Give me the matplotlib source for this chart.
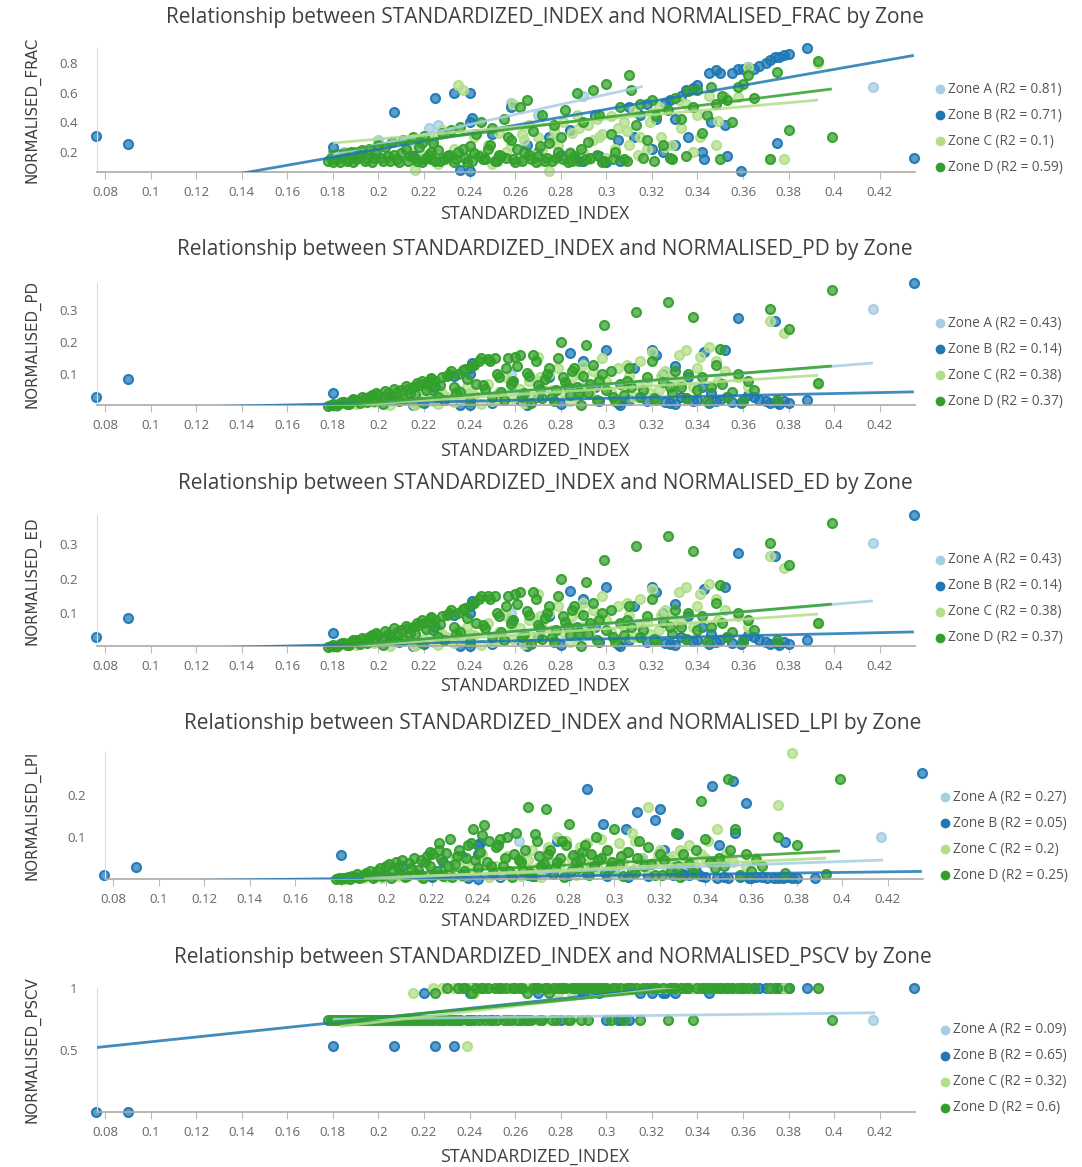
import matplotlib
matplotlib.use('Agg')
import matplotlib.pyplot as plt
from matplotlib.lines import Line2D
from matplotlib.colors import to_rgba
import numpy as np

plt.rcParams['font.family'] = ['Open Sans', 'DejaVu Sans']

zones = ['Zone A', 'Zone B', 'Zone C', 'Zone D']
zone_colors = ['#a6cee3', '#1f78b4', '#b2df8a', '#33a02c']
metrics = ['NORMALISED_FRAC', 'NORMALISED_PD', 'NORMALISED_ED', 'NORMALISED_LPI', 'NORMALISED_PSCV']
x_name = 'STANDARDIZED_INDEX'
x_ticks = [0.08, 0.1, 0.12, 0.14, 0.16, 0.18, 0.2, 0.22, 0.24, 0.26, 0.28, 0.3, 0.32, 0.34, 0.36, 0.38, 0.4, 0.42]

# ---------------- Zone A ----------------
zone_a_x = [0.417, 0.226, 0.258, 0.222, 0.200, 0.185, 0.290, 0.270]
zone_a_frac = [0.64, 0.38, 0.53, 0.36, 0.28, 0.20, 0.58, 0.45]
zone_a_pd = [0.305, 0.050, 0.100, 0.040, 0.020, 0.010, 0.060, 0.080]
zone_a_lpi = [0.100, 0.030, 0.090, 0.020, 0.010, 0.005, 0.050, 0.040]
zone_a_pscv = [0.74, 0.74, 1.0, 0.74, 0.74, 0.74, 1.0, 0.74]

# ---------------- Zone B ----------------
zone_b_x = [0.076, 0.090, 0.180, 0.207, 0.225, 0.233, 0.240, 0.241, 0.240, 0.236,
            0.240, 0.220, 0.258, 0.262, 0.270, 0.275, 0.284, 0.288, 0.290, 0.295,
            0.300, 0.305, 0.310, 0.312, 0.318, 0.320, 0.322, 0.325, 0.328, 0.330,
            0.333, 0.336, 0.340, 0.342, 0.343, 0.345, 0.346, 0.348, 0.350, 0.352,
            0.353, 0.355, 0.358, 0.359, 0.360, 0.362, 0.365, 0.367, 0.370, 0.372,
            0.374, 0.375, 0.376, 0.378, 0.380, 0.388, 0.435, 0.335, 0.338, 0.326,
            0.215, 0.250, 0.265, 0.280, 0.297, 0.306, 0.315, 0.330]
zone_b_frac = [0.31, 0.255, 0.235, 0.47, 0.56, 0.60, 0.60, 0.43, 0.40, 0.08,
               0.07, 0.15, 0.50, 0.15, 0.20, 0.30, 0.35, 0.16, 0.14, 0.45,
               0.13, 0.28, 0.50, 0.30, 0.52, 0.22, 0.42, 0.20, 0.55, 0.25,
               0.58, 0.30, 0.65, 0.20, 0.15, 0.73, 0.40, 0.75, 0.73, 0.38,
               0.17, 0.73, 0.76, 0.07, 0.76, 0.77, 0.76, 0.78, 0.80, 0.82,
               0.84, 0.26, 0.84, 0.85, 0.86, 0.90, 0.16, 0.62, 0.63, 0.53,
               0.18, 0.32, 0.25, 0.18, 0.17, 0.14, 0.45, 0.42]
zone_b_pd = [0.030, 0.085, 0.043, 0.020, 0.060, 0.095, 0.120, 0.135, 0.100, 0.005,
             0.003, 0.010, 0.080, 0.020, 0.030, 0.090, 0.165, 0.045, 0.140, 0.060,
             0.175, 0.010, 0.020, 0.120, 0.015, 0.175, 0.160, 0.100, 0.010, 0.125,
             0.030, 0.090, 0.020, 0.060, 0.170, 0.010, 0.040, 0.015, 0.020, 0.175,
             0.030, 0.012, 0.275, 0.010, 0.020, 0.035, 0.030, 0.020, 0.015, 0.010,
             0.265, 0.012, 0.008, 0.015, 0.010, 0.020, 0.385, 0.025, 0.018, 0.012,
             0.004, 0.010, 0.003, 0.008, 0.015, 0.005, 0.030, 0.008]
zone_b_lpi = [0.010, 0.028, 0.058, 0.030, 0.040, 0.055, 0.080, 0.085, 0.060, 0.002,
              0.001, 0.004, 0.050, 0.010, 0.020, 0.090, 0.060, 0.215, 0.030, 0.130,
              0.020, 0.120, 0.160, 0.050, 0.140, 0.167, 0.070, 0.030, 0.106, 0.012,
              0.010, 0.020, 0.005, 0.040, 0.222, 0.003, 0.080, 0.005, 0.002, 0.232,
              0.110, 0.004, 0.180, 0.003, 0.002, 0.005, 0.004, 0.003, 0.002, 0.003,
              0.002, 0.088, 0.004, 0.002, 0.003, 0.003, 0.252, 0.015, 0.008, 0.010,
              0.010, 0.005, 0.006, 0.010, 0.008, 0.004, 0.008, 0.010]
zone_b_pscv = [0.0, 0.0, 0.53, 0.53, 0.53, 0.53, 0.96, 1.0, 1.0, 0.74,
               0.74, 0.96, 1.0, 0.74, 0.96, 1.0, 1.0, 0.96, 0.96, 1.0,
               0.74, 0.74, 0.74, 1.0, 1.0, 0.96, 1.0, 0.96, 1.0, 0.96,
               1.0, 1.0, 1.0, 1.0, 1.0, 0.96, 1.0, 1.0, 1.0, 1.0,
               1.0, 1.0, 1.0, 1.0, 1.0, 1.0, 1.0, 1.0, 1.0, 1.0,
               1.0, 1.0, 1.0, 1.0, 1.0, 1.0, 1.0, 1.0, 1.0, 0.96,
               0.74, 0.74, 0.74, 0.74, 0.96, 0.74, 0.96, 1.0]

# ---------------- Zone C ----------------
zone_c_x = [0.182, 0.190, 0.198, 0.205, 0.212, 0.215, 0.216, 0.220, 0.224, 0.226,
            0.228, 0.230, 0.233, 0.235, 0.237, 0.239, 0.242, 0.245, 0.248, 0.250,
            0.253, 0.256, 0.259, 0.262, 0.264, 0.266, 0.268, 0.270, 0.272, 0.275,
            0.277, 0.279, 0.281, 0.283, 0.285, 0.287, 0.290, 0.292, 0.294, 0.296,
            0.298, 0.300, 0.302, 0.305, 0.308, 0.310, 0.312, 0.315, 0.318, 0.320,
            0.323, 0.326, 0.329, 0.332, 0.335, 0.338, 0.341, 0.345, 0.348, 0.349,
            0.352, 0.358, 0.362, 0.372, 0.378, 0.393,
            0.240, 0.252, 0.258, 0.263, 0.271, 0.276, 0.284, 0.288, 0.293, 0.297,
            0.304, 0.309, 0.314, 0.319, 0.324, 0.333, 0.340]
zone_c_frac = [0.15, 0.17, 0.20, 0.16, 0.22, 0.25, 0.08, 0.18, 0.28, 0.12,
               0.35, 0.15, 0.22, 0.65, 0.62, 0.14, 0.30, 0.18, 0.25, 0.12,
               0.33, 0.20, 0.52, 0.15, 0.28, 0.38, 0.18, 0.30, 0.22, 0.07,
               0.35, 0.25, 0.40, 0.15, 0.33, 0.45, 0.20, 0.38, 0.28, 0.42,
               0.32, 0.16, 0.44, 0.36, 0.40, 0.25, 0.48, 0.30, 0.22, 0.46,
               0.50, 0.23, 0.25, 0.55, 0.52, 0.20, 0.30, 0.58, 0.25, 0.41,
               0.57, 0.57, 0.77, 0.15, 0.15, 0.80,
               0.20, 0.16, 0.24, 0.32, 0.14, 0.28, 0.20, 0.36, 0.15, 0.30,
               0.22, 0.34, 0.18, 0.40, 0.30, 0.36, 0.45]
zone_c_pd = [0.002, 0.006, 0.012, 0.004, 0.020, 0.010, 0.003, 0.025, 0.015, 0.008,
             0.040, 0.030, 0.012, 0.050, 0.020, 0.060, 0.035, 0.008, 0.070, 0.015,
             0.045, 0.090, 0.025, 0.055, 0.010, 0.080, 0.030, 0.155, 0.060, 0.100,
             0.020, 0.120, 0.045, 0.070, 0.090, 0.030, 0.130, 0.065, 0.110, 0.020,
             0.150, 0.080, 0.045, 0.120, 0.060, 0.095, 0.030, 0.140, 0.075, 0.170,
             0.050, 0.110, 0.085, 0.160, 0.175, 0.060, 0.155, 0.185, 0.140, 0.080,
             0.110, 0.090, 0.060, 0.265, 0.230, 0.070,
             0.040, 0.020, 0.065, 0.035, 0.090, 0.050, 0.015, 0.100, 0.040, 0.085,
             0.025, 0.130, 0.065, 0.040, 0.095, 0.070, 0.120]
zone_c_lpi = [0.001, 0.003, 0.002, 0.008, 0.015, 0.005, 0.002, 0.020, 0.010, 0.004,
              0.030, 0.050, 0.006, 0.040, 0.025, 0.015, 0.060, 0.004, 0.030, 0.010,
              0.055, 0.020, 0.008, 0.045, 0.070, 0.025, 0.005, 0.060, 0.040, 0.100,
              0.015, 0.090, 0.050, 0.010, 0.075, 0.035, 0.055, 0.020, 0.095, 0.060,
              0.040, 0.015, 0.085, 0.065, 0.110, 0.030, 0.050, 0.172, 0.040, 0.070,
              0.025, 0.055, 0.070, 0.045, 0.035, 0.060, 0.090, 0.120, 0.045, 0.060,
              0.040, 0.030, 0.050, 0.175, 0.300, 0.012,
              0.030, 0.012, 0.050, 0.020, 0.075, 0.035, 0.045, 0.085, 0.025, 0.070,
              0.040, 0.090, 0.025, 0.060, 0.050, 0.080, 0.050]
zone_c_pscv = [0.74, 0.74, 0.74, 0.74, 0.74, 0.96, 0.74, 0.74, 1.0, 0.74,
               1.0, 0.74, 1.0, 1.0, 1.0, 0.53, 0.96, 0.74, 1.0, 0.74,
               1.0, 1.0, 0.74, 1.0, 1.0, 1.0, 1.0, 1.0, 0.74, 1.0,
               1.0, 0.96, 1.0, 1.0, 0.96, 1.0, 1.0, 1.0, 1.0, 1.0,
               1.0, 1.0, 1.0, 1.0, 1.0, 1.0, 1.0, 1.0, 1.0, 1.0,
               1.0, 1.0, 1.0, 1.0, 1.0, 1.0, 1.0, 1.0, 1.0, 1.0,
               1.0, 1.0, 1.0, 1.0, 1.0, 1.0,
               1.0, 0.74, 1.0, 1.0, 1.0, 1.0, 1.0, 1.0, 1.0, 1.0,
               1.0, 1.0, 1.0, 1.0, 1.0, 1.0, 1.0]

# ---------------- Zone D ----------------
zone_d_x = [0.178, 0.179, 0.180, 0.182, 0.184, 0.186, 0.188, 0.190, 0.192, 0.194,
            0.196, 0.198, 0.200, 0.202, 0.204, 0.206, 0.208, 0.210, 0.211, 0.213,
            0.215, 0.216, 0.218, 0.219, 0.220, 0.222, 0.223, 0.224, 0.225, 0.226,
            0.228, 0.229, 0.230, 0.232, 0.233, 0.235, 0.236, 0.238, 0.240, 0.241,
            0.243, 0.244, 0.245, 0.247, 0.248, 0.250, 0.251, 0.253, 0.255, 0.256,
            0.258, 0.260, 0.262, 0.264, 0.265, 0.267, 0.268, 0.270, 0.272, 0.273,
            0.275, 0.277, 0.278, 0.280, 0.282, 0.284, 0.285, 0.287, 0.289, 0.290,
            0.291, 0.292, 0.294, 0.296, 0.297, 0.299, 0.300, 0.302, 0.304, 0.306,
            0.308, 0.310, 0.311, 0.313, 0.315, 0.318, 0.320, 0.322, 0.325, 0.327,
            0.329, 0.330, 0.333, 0.335, 0.336, 0.338, 0.340, 0.342, 0.344, 0.346,
            0.348, 0.350, 0.351, 0.353, 0.355, 0.358, 0.360, 0.362, 0.365, 0.372,
            0.375, 0.380, 0.393, 0.399,
            0.181, 0.183, 0.185, 0.187, 0.189, 0.191, 0.193, 0.195, 0.197, 0.199,
            0.201, 0.203, 0.205, 0.207, 0.209, 0.212, 0.214, 0.217, 0.219, 0.221,
            0.223, 0.227, 0.231, 0.234, 0.237, 0.239, 0.242, 0.246, 0.249, 0.252,
            0.254, 0.257, 0.259, 0.261, 0.263, 0.266, 0.269, 0.271, 0.274, 0.276,
            0.279, 0.281, 0.283, 0.286, 0.288, 0.293, 0.298, 0.303, 0.309, 0.316,
            0.321, 0.328]
zone_d_frac = [0.14, 0.16, 0.13, 0.15, 0.17, 0.14, 0.20, 0.15, 0.18, 0.14,
               0.22, 0.16, 0.25, 0.14, 0.17, 0.27, 0.15, 0.19, 0.28, 0.14,
               0.30, 0.16, 0.23, 0.13, 0.31, 0.18, 0.15, 0.26, 0.14, 0.21,
               0.33, 0.15, 0.17, 0.35, 0.13, 0.20, 0.37, 0.16, 0.24, 0.14,
               0.32, 0.17, 0.40, 0.15, 0.22, 0.36, 0.14, 0.18, 0.42, 0.16,
               0.28, 0.13, 0.50, 0.20, 0.55, 0.15, 0.34, 0.17, 0.45, 0.14,
               0.26, 0.38, 0.16, 0.30, 0.48, 0.19, 0.14, 0.60, 0.22, 0.40,
               0.15, 0.27, 0.62, 0.18, 0.45, 0.14, 0.66, 0.32, 0.20, 0.50,
               0.15, 0.72, 0.62, 0.38, 0.52, 0.28, 0.55, 0.44, 0.25, 0.48,
               0.15, 0.56, 0.42, 0.17, 0.61, 0.50, 0.62, 0.33, 0.45, 0.64,
               0.52, 0.15, 0.58, 0.55, 0.40, 0.64, 0.66, 0.72, 0.56, 0.15,
               0.74, 0.35, 0.81, 0.30,
               0.15, 0.13, 0.18, 0.15, 0.13, 0.16, 0.21, 0.15, 0.13, 0.19,
               0.16, 0.23, 0.14, 0.18, 0.13, 0.22, 0.17, 0.14, 0.26, 0.16,
               0.20, 0.14, 0.18, 0.15, 0.22, 0.13, 0.19, 0.15, 0.25, 0.14,
               0.17, 0.30, 0.15, 0.22, 0.14, 0.18, 0.13, 0.24, 0.16, 0.14,
               0.20, 0.15, 0.13, 0.17, 0.14, 0.16, 0.13, 0.15, 0.14, 0.16,
               0.14, 0.16]
zone_d_pd = [0.002, 0.005, 0.008, 0.003, 0.012, 0.006, 0.015, 0.020, 0.010, 0.025,
             0.030, 0.018, 0.035, 0.008, 0.040, 0.028, 0.045, 0.050, 0.022, 0.055,
             0.060, 0.038, 0.065, 0.012, 0.070, 0.075, 0.085, 0.050, 0.080, 0.030,
             0.090, 0.020, 0.095, 0.110, 0.060, 0.100, 0.045, 0.115, 0.015, 0.125,
             0.070, 0.140, 0.150, 0.055, 0.148, 0.030, 0.150, 0.090, 0.020, 0.120,
             0.070, 0.155, 0.160, 0.040, 0.105, 0.010, 0.160, 0.065, 0.025, 0.085,
             0.120, 0.015, 0.050, 0.200, 0.075, 0.035, 0.110, 0.060, 0.005, 0.095,
             0.190, 0.040, 0.130, 0.020, 0.080, 0.255, 0.050, 0.110, 0.015, 0.070,
             0.035, 0.120, 0.060, 0.295, 0.030, 0.090, 0.140, 0.020, 0.075, 0.325,
             0.040, 0.110, 0.060, 0.025, 0.100, 0.280, 0.050, 0.090, 0.015, 0.060,
             0.130, 0.180, 0.070, 0.030, 0.045, 0.100, 0.015, 0.080, 0.050, 0.305,
             0.020, 0.240, 0.072, 0.362,
             0.004, 0.010, 0.014, 0.008, 0.022, 0.016, 0.028, 0.012, 0.035, 0.042,
             0.020, 0.048, 0.032, 0.055, 0.015, 0.062, 0.042, 0.072, 0.080, 0.052,
             0.088, 0.068, 0.100, 0.040, 0.112, 0.085, 0.130, 0.065, 0.140, 0.100,
             0.045, 0.150, 0.080, 0.125, 0.030, 0.095, 0.140, 0.055, 0.100, 0.030,
             0.150, 0.090, 0.060, 0.120, 0.040, 0.070, 0.100, 0.030, 0.080, 0.050,
             0.025, 0.060]
zone_d_lpi = [0.001, 0.002, 0.000, 0.003, 0.001, 0.004, 0.002, 0.006, 0.010, 0.003,
              0.020, 0.008, 0.030, 0.002, 0.040, 0.015, 0.005, 0.038, 0.025, 0.012,
              0.045, 0.002, 0.055, 0.030, 0.060, 0.018, 0.085, 0.048, 0.008, 0.062,
              0.095, 0.004, 0.035, 0.070, 0.010, 0.050, 0.080, 0.120, 0.025, 0.065,
              0.128, 0.040, 0.090, 0.015, 0.075, 0.095, 0.030, 0.100, 0.005, 0.060,
              0.045, 0.020, 0.172, 0.008, 0.108, 0.055, 0.030, 0.167, 0.070, 0.012,
              0.040, 0.090, 0.005, 0.130, 0.058, 0.025, 0.045, 0.080, 0.010, 0.060,
              0.030, 0.100, 0.050, 0.015, 0.070, 0.040, 0.120, 0.035, 0.008, 0.065,
              0.020, 0.050, 0.090, 0.030, 0.075, 0.010, 0.060, 0.045, 0.020, 0.110,
              0.005, 0.060, 0.035, 0.015, 0.070, 0.185, 0.095, 0.040, 0.025, 0.050,
              0.030, 0.238, 0.070, 0.120, 0.010, 0.060, 0.020, 0.045, 0.030, 0.100,
              0.015, 0.080, 0.012, 0.238,
              0.002, 0.005, 0.008, 0.012, 0.004, 0.015, 0.020, 0.006, 0.025, 0.012,
              0.035, 0.018, 0.028, 0.045, 0.008, 0.050, 0.022, 0.040, 0.065, 0.010,
              0.070, 0.032, 0.055, 0.020, 0.085, 0.045, 0.105, 0.030, 0.080, 0.050,
              0.020, 0.110, 0.040, 0.068, 0.015, 0.090, 0.035, 0.060, 0.025, 0.050,
              0.080, 0.020, 0.040, 0.065, 0.012, 0.045, 0.025, 0.055, 0.015, 0.035,
              0.010, 0.030]
zone_d_pscv = [0.74, 0.74, 0.74, 0.74, 0.74, 0.74, 0.74, 0.74, 0.74, 0.74,
               0.74, 0.74, 0.74, 0.74, 0.74, 0.74, 0.74, 0.74, 0.74, 0.74,
               0.74, 0.74, 0.74, 0.74, 0.74, 0.74, 0.74, 0.74, 0.96, 0.74,
               0.74, 0.74, 1.0, 0.74, 0.74, 1.0, 0.74, 1.0, 0.74, 0.96,
               1.0, 0.74, 1.0, 0.74, 1.0, 0.74, 1.0, 1.0, 0.74, 1.0,
               0.74, 1.0, 1.0, 0.74, 0.96, 0.74, 1.0, 1.0, 0.74, 1.0,
               0.96, 1.0, 0.74, 1.0, 1.0, 0.74, 1.0, 1.0, 0.74, 1.0,
               1.0, 0.74, 1.0, 1.0, 1.0, 1.0, 1.0, 0.74, 1.0, 1.0,
               0.74, 1.0, 1.0, 1.0, 0.74, 1.0, 1.0, 1.0, 1.0, 0.74,
               1.0, 1.0, 1.0, 1.0, 1.0, 0.74, 1.0, 1.0, 1.0, 1.0,
               1.0, 1.0, 1.0, 1.0, 1.0, 1.0, 1.0, 1.0, 1.0, 1.0,
               1.0, 1.0, 1.0, 0.74,
               0.74, 0.74, 0.74, 0.74, 0.74, 0.74, 0.74, 0.74, 0.74, 0.74,
               0.74, 0.74, 0.74, 0.74, 0.74, 0.74, 0.74, 0.74, 0.74, 0.74,
               0.74, 0.74, 0.74, 0.74, 1.0, 0.74, 0.74, 1.0, 0.74, 0.74,
               1.0, 0.74, 1.0, 0.74, 1.0, 0.74, 1.0, 0.74, 1.0, 0.74,
               1.0, 1.0, 0.74, 1.0, 1.0, 1.0, 1.0, 1.0, 1.0, 1.0,
               1.0, 1.0]

# ED values read identical to PD in the chart
zone_a_ed = list(zone_a_pd)
zone_b_ed = list(zone_b_pd)
zone_c_ed = list(zone_c_pd)
zone_d_ed = list(zone_d_pd)

# R2 values shown in the legends (A, B, C, D)
r2_frac = [0.81, 0.71, 0.1, 0.59]
r2_pd = [0.43, 0.14, 0.38, 0.37]
r2_ed = [0.43, 0.14, 0.38, 0.37]
r2_lpi = [0.27, 0.05, 0.2, 0.25]
r2_pscv = [0.09, 0.65, 0.32, 0.6]

# Regression lines: slope, intercept, x-start, x-end (A, B, C, D)
fit_slope_frac = [3.37, 2.69, 1.36, 1.92]
fit_icpt_frac = [-0.424, -0.32, 0.015, -0.142]
fit_x0_frac = [0.18, 0.076, 0.18, 0.178]
fit_x1_frac = [0.316, 0.435, 0.393, 0.399]

fit_slope_pd = [0.57, 0.149, 0.455, 0.566]
fit_icpt_pd = [-0.1026, -0.0198, -0.082, -0.1]
fit_x0_pd = [0.18, 0.076, 0.18, 0.178]
fit_x1_pd = [0.417, 0.435, 0.393, 0.399]

fit_slope_lpi = [0.189, 0.0674, 0.246, 0.28]
fit_icpt_lpi = [-0.034, -0.0113, -0.047, -0.045]
fit_x0_lpi = [0.18, 0.076, 0.19, 0.178]
fit_x1_lpi = [0.418, 0.435, 0.393, 0.399]

fit_slope_pscv = [0.22, 1.93, 2.14, 1.75]
fit_icpt_pscv = [0.708, 0.373, 0.298, 0.41]
fit_x0_pscv = [0.18, 0.076, 0.183, 0.178]
fit_x1_pscv = [0.418, 0.435, 0.393, 0.399]

x_by_zone = [zone_a_x, zone_b_x, zone_c_x, zone_d_x]
y_by_metric = {
    'NORMALISED_FRAC': [zone_a_frac, zone_b_frac, zone_c_frac, zone_d_frac],
    'NORMALISED_PD': [zone_a_pd, zone_b_pd, zone_c_pd, zone_d_pd],
    'NORMALISED_ED': [zone_a_ed, zone_b_ed, zone_c_ed, zone_d_ed],
    'NORMALISED_LPI': [zone_a_lpi, zone_b_lpi, zone_c_lpi, zone_d_lpi],
    'NORMALISED_PSCV': [zone_a_pscv, zone_b_pscv, zone_c_pscv, zone_d_pscv],
}
r2_by_metric = {'NORMALISED_FRAC': r2_frac, 'NORMALISED_PD': r2_pd, 'NORMALISED_ED': r2_ed,
                'NORMALISED_LPI': r2_lpi, 'NORMALISED_PSCV': r2_pscv}
fit_by_metric = {
    'NORMALISED_FRAC': (fit_slope_frac, fit_icpt_frac, fit_x0_frac, fit_x1_frac),
    'NORMALISED_PD': (fit_slope_pd, fit_icpt_pd, fit_x0_pd, fit_x1_pd),
    'NORMALISED_ED': (fit_slope_pd, fit_icpt_pd, fit_x0_pd, fit_x1_pd),
    'NORMALISED_LPI': (fit_slope_lpi, fit_icpt_lpi, fit_x0_lpi, fit_x1_lpi),
    'NORMALISED_PSCV': (fit_slope_pscv, fit_icpt_pscv, fit_x0_pscv, fit_x1_pscv),
}
y_limits = {'NORMALISED_FRAC': (0.065, 0.9), 'NORMALISED_PD': (0.004, 0.385),
            'NORMALISED_ED': (0.004, 0.385), 'NORMALISED_LPI': (0.0, 0.302),
            'NORMALISED_PSCV': (0.0, 1.0)}
y_ticks = {'NORMALISED_FRAC': [0.2, 0.4, 0.6, 0.8], 'NORMALISED_PD': [0.1, 0.2, 0.3],
           'NORMALISED_ED': [0.1, 0.2, 0.3], 'NORMALISED_LPI': [0.1, 0.2],
           'NORMALISED_PSCV': [0.5, 1.0]}

# ---------------- layout (pixels of a 1082 x 1167 canvas) ----------------
W, H = 1082, 1167
boxes = [(97, 915, 48, 172), (97, 915, 283, 405), (97, 915, 515, 646),
         (105, 923, 752, 879), (97, 915, 988, 1112)]
title_pos = [(545, 18), (545, 250), (545, 484), (553, 724), (553, 958)]
xlabel_y = [214, 451, 686, 921, 1157]
legend_pos = [(940, 89), (940, 323), (940, 560), (945, 797), (945, 1030)]

fig = plt.figure(figsize=(W / 100, H / 100), dpi=100)
tick_color = '#666666'
text_color = '#404040'

def fx(p):
    return p / W

def fy(p):
    return 1 - p / H

for k, metric in enumerate(metrics):
    l, r, t, b = boxes[k]
    ax = fig.add_axes([fx(l), fy(b), (r - l) / W, (b - t) / H])
    for zi in range(4):
        ax.scatter(x_by_zone[zi], y_by_metric[metric][zi], s=42,
                   facecolor=to_rgba(zone_colors[zi], 0.72),
                   edgecolor=to_rgba(zone_colors[zi], 0.95),
                   linewidths=1.5, clip_on=False, zorder=2 + zi * 0.1)
    slopes, icpts, x0s, x1s = fit_by_metric[metric]
    for zi in range(4):
        xs = np.array([x0s[zi], x1s[zi]])
        ax.plot(xs, slopes[zi] * xs + icpts[zi], color=zone_colors[zi], lw=2.0,
                alpha=0.85, zorder=4, solid_capstyle='butt')
    ax.set_xlim(0.0765, 0.4355)
    ax.set_ylim(*y_limits[metric])
    ax.set_xticks(x_ticks)
    ax.set_xticklabels(['%g' % v for v in x_ticks])
    ax.set_yticks(y_ticks[metric])
    ax.set_yticklabels(['%g' % v for v in y_ticks[metric]])
    ax.tick_params(axis='x', length=5, width=0.8, color='#bbbbbb', pad=5,
                   labelsize=9.5, labelcolor=tick_color)
    ax.tick_params(axis='y', length=0, pad=14, labelsize=9.5, labelcolor=tick_color)
    for s in ['top', 'right']:
        ax.spines[s].set_visible(False)
    ax.spines['left'].set_color('#dddddd')
    ax.spines['bottom'].set_color('#aaaaaa')
    ax.spines['bottom'].set_linewidth(1.2)
    ax.set_ylabel(metric, family='DejaVu Sans', fontsize=10.8, color=text_color)
    ax.yaxis.set_label_coords((41 - l) / (r - l), 0.5)

    tx, ty = title_pos[k]
    fig.text(fx(tx), fy(ty), 'Relationship between %s and %s by Zone' % (x_name, metric),
             ha='center', va='center', fontsize=15, color=text_color)
    fig.text(fx(535), fy(xlabel_y[k]), x_name, ha='center', va='center',
             fontsize=12.8, color=text_color)

    lx, ly = legend_pos[k]
    for zi in range(4):
        yy = ly + 26 * zi
        fig.add_artist(Line2D([fx(lx)], [fy(yy)], marker='o', markersize=6,
                              color=zone_colors[zi], transform=fig.transFigure))
        fig.text(fx(lx + 8), fy(yy), '%s (R2 = %g)' % (zones[zi], r2_by_metric[metric][zi]),
                 ha='left', va='center', fontsize=9.8, color='#555555')

fig.savefig('out.png', dpi=100, facecolor='white')
